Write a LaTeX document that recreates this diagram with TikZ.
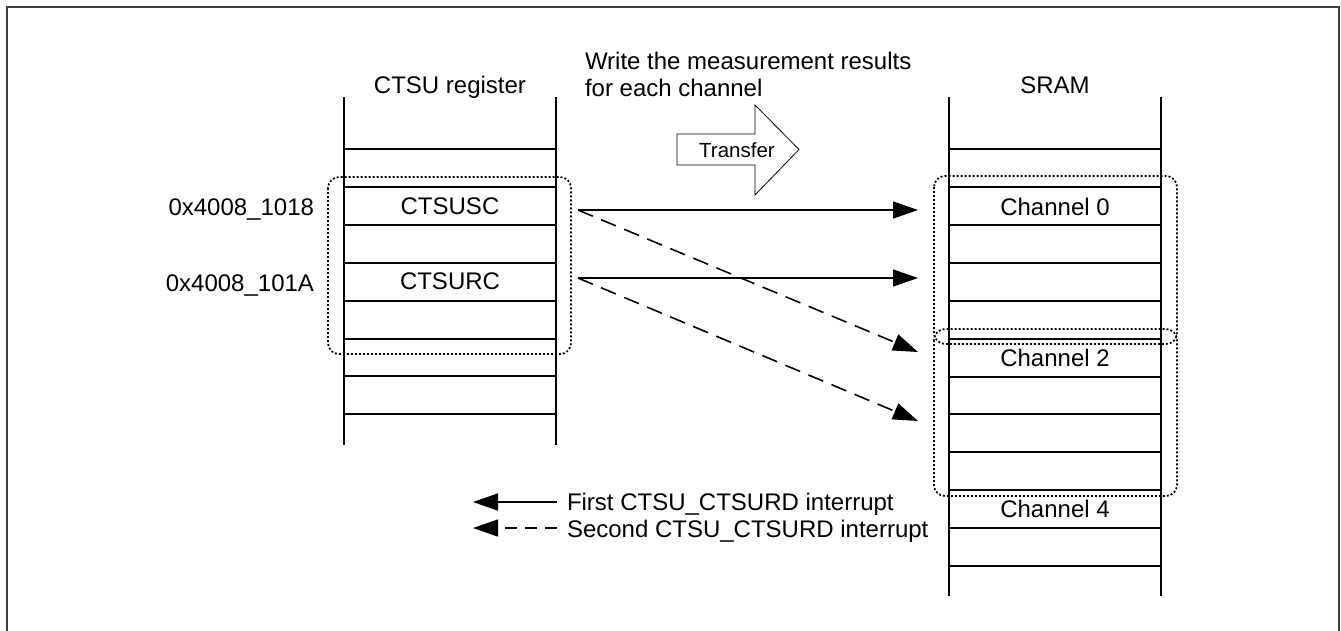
\documentclass[tikz,border=0pt]{standalone}
\usepackage{fontspec}
\setmainfont{Liberation Sans}
\usetikzlibrary{arrows.meta}
\begin{document}
\begin{tikzpicture}[x=1pt,y=-1pt,
  every node/.style={inner sep=0pt,outer sep=0pt},
  lbl/.style={font=\fontsize{24}{28}\selectfont,anchor=base},
  col/.style={line width=1.4pt,black},
  grp/.style={line width=1.7pt,dash pattern=on 2pt off 2pt,rounded corners=11pt},
  conn/.style={line width=1.6pt,-{Triangle[length=25pt,width=17pt]}},
  dconn/.style={conn,dash pattern=on 16pt off 9pt},
  frame/.style={line width=2pt,black!75}]
\useasboundingbox (0,0) rectangle (1341,630);
\draw[frame] (7,640) -- (7,7) -- (1339,7) -- (1339,640);

% CTSU register column
\draw[col] (344,97) -- (344,445);
\draw[col] (556,97) -- (556,445);
\foreach \y in {149,187,225,263,301,339,376,414}
  \draw[col] (344,\y) -- (556,\y);
\node[lbl] (regtitle) at (450,93) {CTSU register};
\node[lbl] (ctsusc) at (450,214) {CTSUSC};
\node[lbl] (ctsurc) at (450,289) {CTSURC};
\node[lbl,anchor=base east] (addr1) at (314,215) {0x4008\_1018};
\node[lbl,anchor=base east] (addr2) at (314,291) {0x4008\_101A};
\draw[grp] (328,177) rectangle (571,354);

% SRAM column
\draw[col] (949,97) -- (949,596);
\draw[col] (1161,97) -- (1161,596);
\foreach \y in {149,187,225,263,301,339,377,414,452,490,528,566}
  \draw[col] (949,\y) -- (1161,\y);
\node[lbl] (sramtitle) at (1055,93) {SRAM};
\node[lbl] (ch0) at (1055,215) {Channel 0};
\node[lbl] (ch2) at (1055,366) {Channel 2};
\node[lbl] (ch4) at (1055,517) {Channel 4};
\draw[grp] (934,176) rectangle (1177,344);
\draw[grp] (934,329) rectangle (1177,496);

% Transfer arrow
\node[lbl,anchor=base west] (note1) at (585,69) {Write the measurement results};
\node[lbl,anchor=base west] (note2) at (585,96) {for each channel};
\draw[line width=0.8pt,fill=white] (677,134) -- (755,134) -- (755,105) -- (799,149.5)
  -- (755,195) -- (755,165) -- (677,165) -- cycle;
\node[font=\fontsize{20.5}{24}\selectfont,anchor=base] (transfer) at (737,157) {Transfer};

% connectors
\coordinate (s1) at (578,210);
\coordinate (s2) at (578,278);
\coordinate (t1) at (918,210);
\coordinate (t2) at (918,278);
\coordinate (t3) at (918,352);
\coordinate (t4) at (918,421);
\draw[conn] (s1) -- (t1);
\draw[conn] (s2) -- (t2);
\draw[dconn] (s1) -- (t3);
\draw[dconn] (s2) -- (t4);

% legend
\node[lbl,anchor=base west] (leg1) at (567,510) {First CTSU\_CTSURD interrupt};
\node[lbl,anchor=base west] (leg2) at (567,537) {Second CTSU\_CTSURD interrupt};
\coordinate (l1e) at (557,502);
\coordinate (l1t) at (473,502);
\coordinate (l2e) at (557,528);
\coordinate (l2t) at (473,528);
\draw[conn] (l1e) -- (l1t);
\draw[conn,dash pattern=on 12pt off 8pt] (l2e) -- (l2t);
\end{tikzpicture}
\end{document}
